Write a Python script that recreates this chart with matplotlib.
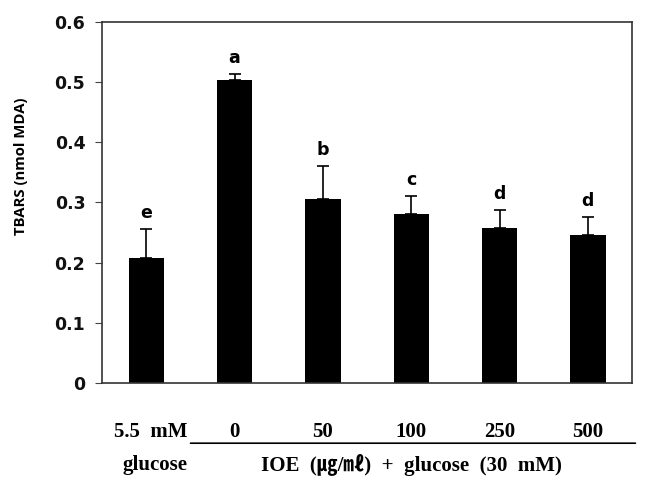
import numpy as np
import matplotlib
matplotlib.use("Agg")
import matplotlib.pyplot as plt

# data
groups = ["5.5  mM", "0", "50", "100", "250", "500"]
tbars = [0.208, 0.503, 0.306, 0.281, 0.257, 0.246]
sem = [0.048, 0.010, 0.055, 0.029, 0.030, 0.030]
letters = ["e", "a", "b", "c", "d", "d"]
yticks = [0, 0.1, 0.2, 0.3, 0.4, 0.5, 0.6]

fig = plt.figure(figsize=(6.57, 4.83), dpi=100)
ax = fig.add_axes([0.1553, 0.207, 0.8067, 0.7475])

x = np.arange(len(groups))
ax.bar(x, tbars, width=0.4, color="black", zorder=2)
ax.errorbar(x, tbars, yerr=[np.zeros(len(sem)), sem], fmt="none",
            ecolor="black", elinewidth=1.2, capsize=4, capthick=1.2, zorder=3)

for xi, v, e, lab in zip(x, tbars, sem, letters):
    ax.text(xi, v + e + 0.012, lab, ha="center", va="bottom",
            fontsize=12.5, fontweight="bold", family="DejaVu Sans")

ax.set_xlim(-0.5, len(groups) - 0.5)
ax.set_ylim(0, 0.6)
ax.set_yticks(yticks)
ax.set_yticklabels(["0" if t == 0 else f"{t:.1f}" for t in yticks],
                   fontsize=12.5, fontweight="bold")
ax.set_xticks([])
ax.tick_params(axis="y", direction="out", length=5, width=0.8, colors="#444444",
               labelcolor="#111111", pad=7)
for s in ax.spines.values():
    s.set_color("#333333")
    s.set_linewidth(1.2)

ax.set_ylabel("TBARS (nmol MDA)", fontsize=10.7, fontweight="bold",
              family=["Open Sans", "DejaVu Sans"])
ax.yaxis.set_label_coords(-0.139, 0.60)

# group labels under the axis
serif = ["Liberation Serif", "Noto Sans CJK KR", "DejaVu Sans"]
for xi, g in zip(x, groups):
    ax.text(xi if xi > 0 else 0.05, -0.082, g, ha="center", va="center",
            fontsize=15, fontweight="bold", family=serif,
            transform=ax.transData, clip_on=False)

ax.annotate("", xy=(5.57, -0.1), xytext=(0.47, -0.1), xycoords="data",
            arrowprops=dict(arrowstyle="-", color="black", lw=1.2),
            annotation_clip=False)
ax.text(0.1, -0.137, "glucose", ha="center", va="center", fontsize=15,
        fontweight="bold", family=serif, clip_on=False)
ax.text(3.0, -0.137, "IOE  (\u338d/\u3396)  +  glucose  (30  mM)", ha="center",
        va="center", fontsize=15, fontweight="bold", family=serif, clip_on=False)

fig.savefig("out.png", dpi=100)
